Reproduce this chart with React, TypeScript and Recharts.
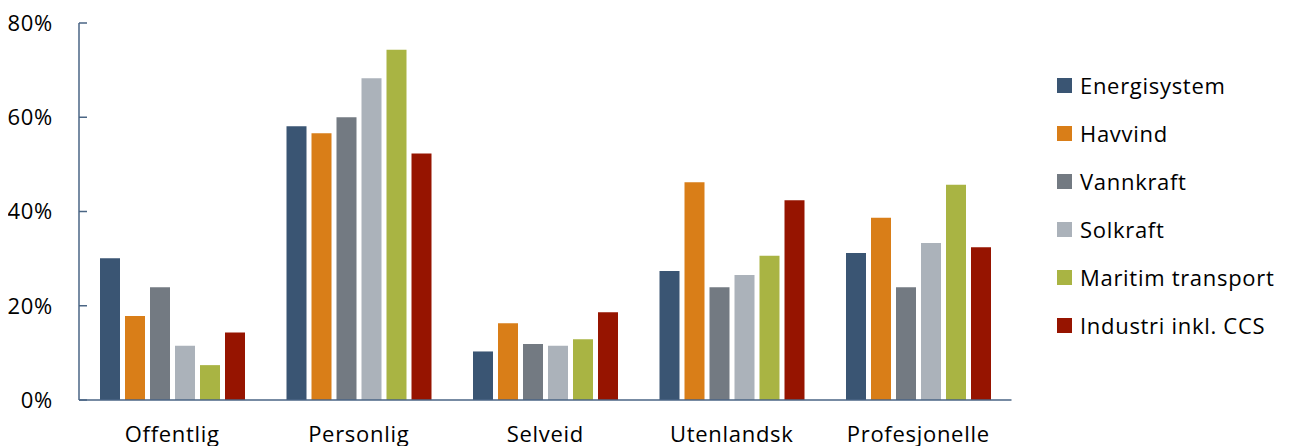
import React from 'react';
import { BarChart, Bar, XAxis, YAxis } from 'recharts';

const categories = ['Offentlig', 'Personlig', 'Selveid', 'Utenlandsk', 'Profesjonelle'];

const seriesNames = ['Energisystem', 'Havvind', 'Vannkraft', 'Solkraft', 'Maritim transport', 'Industri inkl. CCS'];
const seriesColors = ['#3A5573', '#D97E18', '#737A82', '#ABB2BA', '#A9B443', '#961400'];

const energisystem = [30.1, 58.1, 10.3, 27.4, 31.2];
const havvind = [17.8, 56.6, 16.3, 46.2, 38.7];
const vannkraft = [23.9, 60.0, 11.9, 23.9, 23.9];
const solkraft = [11.5, 68.3, 11.5, 26.5, 33.3];
const maritim = [7.4, 74.3, 12.9, 30.6, 45.7];
const industri = [14.3, 52.3, 18.6, 42.4, 32.4];

const yTicks = [0, 20, 40, 60, 80];

const seriesValues = [energisystem, havvind, vannkraft, solkraft, maritim, industri];

const data = categories.map((name, i) => {
  const row: Record<string, string | number> = { name };
  seriesNames.forEach((s, j) => {
    row[s] = seriesValues[j][i];
  });
  return row;
});

const FONT = '"Open Sans", Lato, sans-serif';
const AXIS = '#4A6584';
const textStyle = { fill: '#000', fontSize: 22, fontFamily: FONT, letterSpacing: 0.7 };

const LegendBox = () => (
  <div
    style={{
      position: 'absolute',
      left: 1049,
      top: 53,
      fontFamily: FONT,
      fontSize: 22,
      letterSpacing: 0.7,
      color: '#000',
    }}
  >
    {seriesNames.map((s, i) => (
      <div key={s} style={{ display: 'flex', alignItems: 'center', height: 48, whiteSpace: 'nowrap' }}>
        <span
          style={{ width: 15, height: 15, background: seriesColors[i], display: 'inline-block', marginRight: 8 }}
        />
        <span>{s}</span>
      </div>
    ))}
  </div>
);

export default function App() {
  return (
    <div style={{ position: 'relative', fontFamily: FONT, width: 1276, height: 438 }}>
      <BarChart
        width={1276}
        height={438}
        data={data}
        margin={{ top: 15, right: 272.5, bottom: 16, left: 0 }}
        barSize={20}
        barGap={5}
      >
        <XAxis
          dataKey="name"
          height={30}
          axisLine={{ stroke: AXIS, strokeWidth: 1.5 }}
          tickLine={false}
          tickSize={0}
          tickMargin={26}
          tick={textStyle}
          interval={0}
        />
        <YAxis
          width={71}
          domain={[0, 80]}
          ticks={yTicks}
          tickFormatter={(v: number) => `${v}%`}
          axisLine={{ stroke: AXIS, strokeWidth: 1.5 }}
          tickLine={{ stroke: AXIS, strokeWidth: 1.5 }}
          tickSize={-8}
          tickMargin={34}
          tick={textStyle}
        />
        {seriesNames.map((s, i) => (
          <Bar key={s} dataKey={s} fill={seriesColors[i]} isAnimationActive={false} />
        ))}
      </BarChart>
      <LegendBox />
    </div>
  );
}
